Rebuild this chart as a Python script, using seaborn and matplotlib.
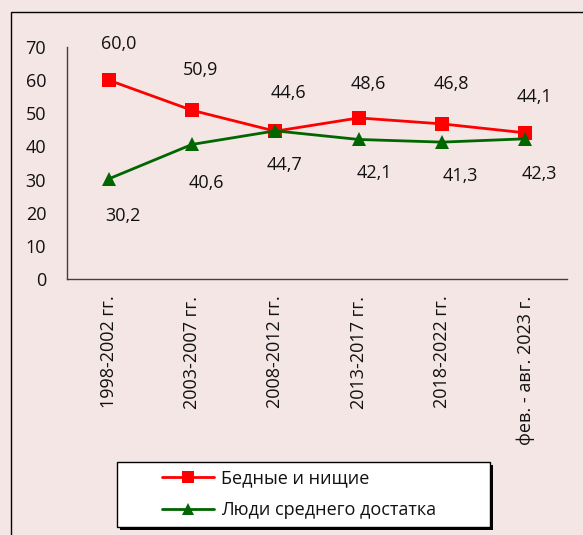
import matplotlib
matplotlib.use("Agg")
import matplotlib.pyplot as plt
import seaborn as sns
import pandas as pd
from matplotlib.patches import Rectangle
from matplotlib.lines import Line2D

periods = ["1998-2002 гг.", "2003-2007 гг.", "2008-2012 гг.", "2013-2017 гг.", "2018-2022 гг.", "фев. - авг. 2023 г."]
poor = [60.0, 50.9, 44.6, 48.6, 46.8, 44.1]
middle = [30.2, 40.6, 44.7, 42.1, 41.3, 42.3]
series_names = ["Бедные и нищие", "Люди среднего достатка"]
yticks = [0, 10, 20, 30, 40, 50, 60, 70]

sns.set_theme(style="white")
plt.rcParams['font.family'] = ['Open Sans', 'DejaVu Sans']

FS = 13
bg = "#F5E6E6"
fig = plt.figure(figsize=(5.83, 5.35), dpi=100)
fig.patch.set_facecolor(bg)
ax = fig.add_axes([67/583, 1 - 279/535, 500/583, (279-47)/535])
ax.set_facecolor(bg)

df = pd.DataFrame({
    "value": poor + middle,
    "series": [series_names[0]] * 6 + [series_names[1]] * 6,
})
x_idx = list(range(len(periods)))
df["x"] = x_idx * 2

sns.lineplot(data=df, x="x", y="value", hue="series", style="series",
             palette={series_names[0]: "#FF0000", series_names[1]: "#006600"},
             markers={series_names[0]: "s", series_names[1]: "^"},
             dashes=False, markersize=10, linewidth=2, markeredgewidth=0,
             ax=ax, legend=False, sort=False)

ax.set_xlim(-0.5, 5.5)
ax.set_ylim(0, 70)
ax.set_yticks(yticks)
ax.set_yticklabels([str(t) for t in yticks], fontsize=FS, color="#111111")
ax.set_xticks(x_idx)
ax.set_xticklabels(periods, rotation=90, fontsize=FS, color="#111111")
ax.tick_params(axis='y', length=0, pad=15)
ax.tick_params(axis='x', length=0, pad=12)
ax.set_xlabel("")
ax.set_ylabel("")
for s in ["top", "right"]:
    ax.spines[s].set_visible(False)
for s in ["left", "bottom"]:
    ax.spines[s].set_color("#404040")
    ax.spines[s].set_linewidth(1)

fmt = lambda v: f"{v:.1f}".replace(".", ",")
poor_off = [(10, 36), (8, 40), (13, 38), (10, 34), (9, 40), (9, 36)]
mid_off = [(14, -37), (14, -39), (9, -34), (16, -34), (18, -34), (14, -35)]
for i, v in enumerate(poor):
    ax.annotate(fmt(v), (i, v), xytext=poor_off[i], textcoords="offset pixels",
                ha="center", va="center", fontsize=FS, color="#111111")
for i, v in enumerate(middle):
    ax.annotate(fmt(v), (i, v), xytext=mid_off[i], textcoords="offset pixels",
                ha="center", va="center", fontsize=FS, color="#111111")

# legend box with shadow
W, H = 583, 535
bx0, bx1, by0, by1 = 117, 490, 462, 527
shadow = Rectangle(((bx0 + 3)/W, 1 - (by1 + 3)/H), (bx1 - bx0)/W, (by1 - by0)/H,
                   transform=fig.transFigure, facecolor="black", edgecolor="none", zorder=1)
box = Rectangle((bx0/W, 1 - by1/H), (bx1 - bx0)/W, (by1 - by0)/H, transform=fig.transFigure,
                facecolor="white", edgecolor="black", linewidth=1, zorder=2)
fig.patches.append(shadow)
fig.patches.append(box)

handles = [Line2D([], [], color="#FF0000", marker="s", markersize=9, linewidth=2, markeredgewidth=0),
           Line2D([], [], color="#006600", marker="^", markersize=9, linewidth=2, markeredgewidth=0)]
leg = fig.legend(handles, series_names, loc="center",
                 bbox_to_anchor=(299/W, 1 - 494.5/H), frameon=False,
                 fontsize=FS, handlelength=2.9, borderpad=0.2,
                 labelspacing=0.75, handletextpad=0.4)
leg.set_zorder(3)
for t in leg.get_texts():
    t.set_color("#111111")

# outer border
fig.patches.append(Rectangle((11/W, -0.1), 1.0, 1 - 12/H + 0.1, transform=fig.transFigure,
                             fill=False, edgecolor="black", linewidth=1, zorder=0))

fig.savefig("out.png", dpi=100, facecolor=bg)
